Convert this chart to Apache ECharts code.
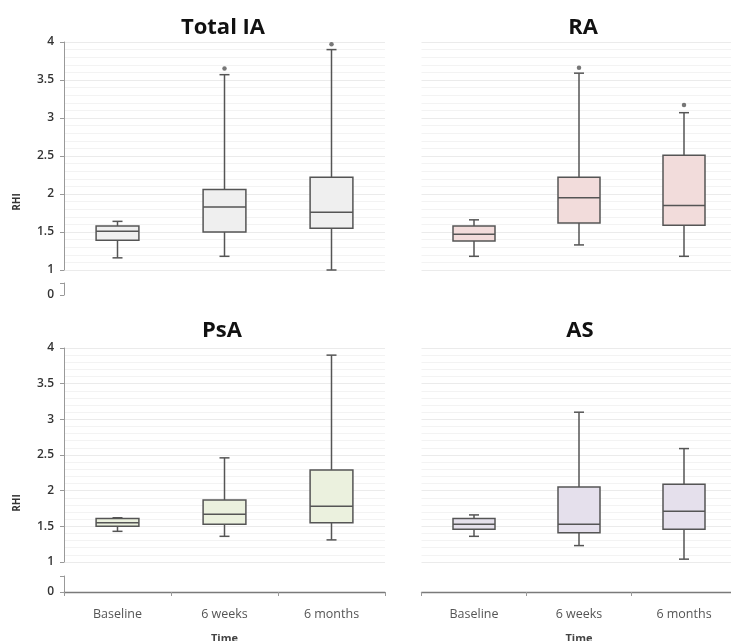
<!DOCTYPE html>
<html>
<head>
<meta charset="utf-8">
<script src="https://cdn.jsdelivr.net/npm/echarts@6/dist/echarts.min.js"></script>
<style>html,body{margin:0;padding:0;background:#fff}#c{width:731px;height:641px}</style>
</head>
<body>
<div id="c"></div>
<script>
// ---- data ----
var categories = ['Baseline', '6 weeks', '6 months'];
var panelTitles = ['Total IA', 'RA', 'PsA', 'AS'];
var yTickLabels = ['1', '1.5', '2', '2.5', '3', '3.5', '4'];
// each box: [min, Q1, median, Q3, max]
var totalIA = [[1.16, 1.39, 1.51, 1.58, 1.64], [1.18, 1.50, 1.83, 2.06, 3.57], [1.00, 1.55, 1.76, 2.22, 3.90]];
var totalIAOutliers = [[1, 3.65], [2, 3.97]];
var ra = [[1.18, 1.38, 1.47, 1.58, 1.66], [1.33, 1.62, 1.95, 2.22, 3.59], [1.18, 1.59, 1.85, 2.51, 3.07]];
var raOutliers = [[1, 3.66], [2, 3.17]];
var psa = [[1.43, 1.50, 1.55, 1.61, 1.62], [1.36, 1.53, 1.67, 1.87, 2.46], [1.31, 1.55, 1.78, 2.29, 3.90]];
var psaOutliers = [];
var asData = [[1.36, 1.46, 1.53, 1.61, 1.66], [1.23, 1.41, 1.53, 2.05, 3.10], [1.04, 1.46, 1.71, 2.09, 2.59]];
var asOutliers = [];

// ---- layout ----
var FONT = '"Open Sans", "Liberation Sans", sans-serif';
var panels = [
  {data: totalIA, out: totalIAOutliers, fill: '#efefef', left: 64, top: 42, h: 228, miniTop: 283, miniH: 12, yLabels: true, xLabels: false},
  {data: ra, out: raOutliers, fill: '#f2dcdb', left: 421.5, top: 42, h: 228, miniTop: 283, miniH: 12, yLabels: false, xLabels: false},
  {data: psa, out: psaOutliers, fill: '#ebf1de', left: 64, top: 348, h: 214, miniTop: 576, miniH: 16, yLabels: true, xLabels: true},
  {data: asData, out: asOutliers, fill: '#e5e0ec', left: 421.5, top: 348, h: 214, miniTop: 576, miniH: 16, yLabels: false, xLabels: true}
];
var PW = 321;
var STROKE = '#555';

var grids = [], xAxes = [], yAxes = [], series = [], titles = [];

panels.forEach(function (p, i) {
  var w = (i % 2 === 0) ? PW : 315;
  grids.push({left: p.left, top: p.top, width: w, height: p.h, outerBoundsMode: 'none', containLabel: false});
  grids.push({left: p.left, top: p.miniTop, width: w, height: p.miniH, outerBoundsMode: 'none', containLabel: false});
  var gMain = i * 2, gMini = i * 2 + 1;

  xAxes.push({type: 'category', gridIndex: gMain, data: categories, show: false, boundaryGap: true});
  yAxes.push({
    type: 'value', gridIndex: gMain, min: 1, max: 4, interval: 0.5,
    axisLine: {show: p.yLabels, lineStyle: {color: '#999', width: 1}},
    axisTick: {show: p.yLabels, length: 4, lineStyle: {color: '#999'}},
    axisLabel: {show: p.yLabels, margin: 10, color: '#333', fontSize: 12, fontWeight: 600, fontFamily: FONT,
      formatter: function (v) { var s = String(v); return yTickLabels.indexOf(s) >= 0 ? s : ''; }},
    splitLine: {show: true, lineStyle: {color: '#ebebeb', width: 1}},
    minorTick: {show: false, splitNumber: 5},
    minorSplitLine: {show: true, lineStyle: {color: '#f3f3f3', width: 1}}
  });

  xAxes.push({
    type: 'category', gridIndex: gMini, data: categories, boundaryGap: true,
    show: p.xLabels,
    axisLine: {show: p.xLabels, lineStyle: {color: '#7a7a7a', width: 1.3}},
    axisTick: {show: p.xLabels, length: 4, lineStyle: {color: '#999'}},
    axisLabel: {show: p.xLabels, margin: 16, color: '#555', fontSize: 12.5, fontFamily: FONT},
    name: p.xLabels ? 'Time' : '', nameLocation: 'middle', nameGap: 41,
    nameTextStyle: {color: '#444', fontSize: 11, fontWeight: 'bold', fontFamily: FONT}
  });
  yAxes.push({
    type: 'value', gridIndex: gMini, min: 0, max: 1, interval: 1,
    axisLine: {show: p.yLabels, lineStyle: {color: '#999', width: 1}},
    axisTick: {show: p.yLabels, length: 4, lineStyle: {color: '#999'}},
    axisLabel: {show: p.yLabels, margin: 10, color: '#333', fontSize: 12, fontWeight: 600, fontFamily: FONT,
      formatter: function (v) { return v === 0 ? '0' : ''; }},
    splitLine: {show: false}
  });

  var rows = p.data.map(function (d, k) { return [k, d[0], d[1], d[2], d[3], d[4]]; });
  series.push({
    type: 'custom', xAxisIndex: gMain, yAxisIndex: gMain, z: 5,
    data: rows,
    renderItem: function (params, api) {
      var x = api.value(0);
      var pMin = api.coord([x, api.value(1)]);
      var pQ1 = api.coord([x, api.value(2)]);
      var pMed = api.coord([x, api.value(3)]);
      var pQ3 = api.coord([x, api.value(4)]);
      var pMax = api.coord([x, api.value(5)]);
      var band = api.size([1, 0])[0];
      var bw = band * 0.4, cw = 10;
      var cx = pMed[0];
      var ls = {stroke: STROKE, lineWidth: 1.5, fill: null};
      return {
        type: 'group',
        children: [
          {type: 'line', shape: {x1: cx, y1: pQ3[1], x2: cx, y2: pMax[1]}, style: ls},
          {type: 'line', shape: {x1: cx, y1: pQ1[1], x2: cx, y2: pMin[1]}, style: ls},
          {type: 'line', shape: {x1: cx - cw / 2, y1: pMax[1], x2: cx + cw / 2, y2: pMax[1]}, style: ls},
          {type: 'line', shape: {x1: cx - cw / 2, y1: pMin[1], x2: cx + cw / 2, y2: pMin[1]}, style: ls},
          {type: 'rect', shape: {x: cx - bw / 2, y: pQ3[1], width: bw, height: pQ1[1] - pQ3[1]},
            style: {fill: p.fill, stroke: STROKE, lineWidth: 1.5}},
          {type: 'line', shape: {x1: cx - bw / 2, y1: pMed[1], x2: cx + bw / 2, y2: pMed[1]}, style: ls}
        ]
      };
    }
  });
  if (p.out.length) {
    series.push({
      type: 'scatter', xAxisIndex: gMain, yAxisIndex: gMain, z: 6,
      data: p.out, symbol: 'circle', symbolSize: 4.5,
      itemStyle: {color: '#555'}
    });
  }
});

titles = [
  {text: panelTitles[0], left: 218, top: 12},
  {text: panelTitles[1], left: 578, top: 12},
  {text: panelTitles[2], left: 217, top: 315},
  {text: panelTitles[3], left: 575, top: 315}
].map(function (t) {
  t.textAlign = 'center';
  t.textStyle = {fontFamily: FONT, fontSize: 22, fontWeight: 'bold', color: '#111'};
  return t;
});

var chart = echarts.init(document.getElementById('c'), null, {renderer: 'canvas'});
chart.setOption({
  animation: false,
  backgroundColor: '#fff',
  title: titles,
  grid: grids,
  xAxis: xAxes,
  yAxis: yAxes,
  series: series,
  graphic: [
    {type: 'text', x: 17, y: 202, rotation: Math.PI / 2, style: {text: 'RHI', fill: '#333', font: 'bold 10px ' + FONT, align: 'center', verticalAlign: 'middle'}},
    {type: 'text', x: 17, y: 503, rotation: Math.PI / 2, style: {text: 'RHI', fill: '#333', font: 'bold 10px ' + FONT, align: 'center', verticalAlign: 'middle'}}
  ]
});
</script>
</body>
</html>
